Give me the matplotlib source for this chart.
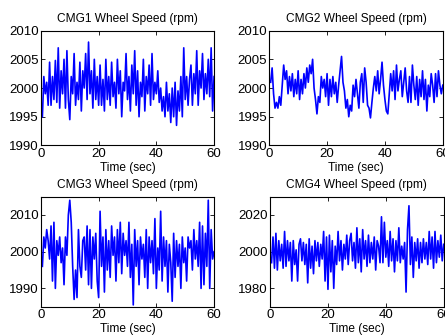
import numpy as np
import matplotlib
matplotlib.use('Agg')
import matplotlib.pyplot as plt

plt.rcParams['font.family'] = ['Liberation Sans', 'DejaVu Sans']

# wheel speed samples (rpm), one every 0.5 s from 0.5 s to 60 s
cmg1 = [1995, 2002, 1999, 2001, 1997, 2004.5, 1997, 2002, 1998, 2004.8, 1997.5, 2007, 1996.5, 2003, 1999, 2005, 1996.5, 2006.5, 1998, 1994.5,
        2002, 1999, 2006, 1997, 2001, 1998, 2004.5, 1996, 2003, 2000, 2006, 1998, 2008, 1999, 2003, 1996.5, 2005, 1998, 2002, 1997,
        2004, 1997, 2001.5, 1996, 2005, 1998, 2002, 1997, 2004.5, 1998.5, 2001, 1996.5, 2005, 1999, 2003, 1995, 2001, 1999.5, 2006, 1998,
        2002, 1996, 2004, 1999, 2006.5, 1997, 2003, 1995, 2001, 1998.5, 2005, 1996, 2002, 1999, 2004, 1997, 2006, 1998, 2001, 1999,
        2003, 1997.5, 2000, 1996, 1998.5, 1995, 2001, 1996, 1999, 1994, 2000, 1995, 2001, 1993.5, 1999.5, 1996, 2002, 1995, 2007, 1998,
        2002, 1997, 2001.5, 2004, 1997, 2002.5, 1999, 2006.5, 1997, 2003, 2000, 2006, 1998, 2002.5, 1999, 2005, 1998.5, 2007, 1996, 2002]

cmg2 = [2001, 2003.5, 1999, 1996.5, 1997.5, 1996.5, 1998.5, 1997, 2000.5, 2004, 2001.5, 2003, 1999, 2002, 1999.5, 2002.5, 1998.5, 2001.5, 1999, 2003,
        1998, 2001.5, 1999, 2002.5, 2000, 2003.5, 2001, 2004, 2002.5, 2005, 2000, 1998, 1995.5, 1998.5, 1997.5, 2002, 2000, 2001.5, 1998.5, 2002.5,
        1997, 2001.5, 1998.5, 2002, 1999, 2001, 1997.5, 2000.5, 2003, 2005.5, 2001, 1999.5, 1996.5, 1998, 1995, 1997, 1996, 2000.5, 1998.5, 2001.5,
        1999, 1996.5, 2001, 2002.5, 1997.5, 2003.5, 2001, 1997, 1996.5, 1994.8, 1997.5, 2000, 2002, 1999.5, 2003, 1999, 2001.5, 2004.5, 2000.5, 1998,
        1996, 1995.5, 1999, 2002.5, 1999.5, 2003, 1998, 2004, 1999.5, 2001.5, 2003, 1998.5, 2001, 2003.5, 1999.5, 1997.5, 2002, 1997.5, 2004, 2000.5,
        1998, 2002, 1997, 2001.5, 1998.5, 2003, 1998, 2001.5, 1996, 2000.5, 1998.5, 2002.5, 2000.5, 1997.5, 2002.5, 1998.5, 2003, 2000.5, 1999, 2000.5]

cmg3 = [1996, 2004, 2001, 2006, 2003, 1998, 2007, 1992, 2008, 1990, 2003, 1999, 2004, 1997, 2001, 1991, 2004, 1999, 2010, 2014,
        2008, 1996, 1987, 1995, 1987.5, 2006, 1996, 1993, 2003, 2004, 1995, 2007, 1991, 2006, 1990, 2004, 1998, 2005, 1992, 1987.5,
        2011, 1996, 2004, 1989, 2006, 1995, 2003, 1993, 2007, 1999, 2004, 1992, 2006, 1997, 2008, 1994, 2005, 1999, 2003, 1996,
        2008, 1993, 2002, 1985.5, 2006, 1996, 2003, 1991, 2004, 1998, 2002, 1993, 2006, 1990, 2004, 1997, 2003, 1994, 2009, 1990,
        2001, 1995, 2011, 1992, 2004, 1996, 2003, 1989, 2002, 1997, 1986.5, 2005, 1993, 2003, 1996, 2002, 1990, 2004, 1997, 2001,
        1992, 2004, 2001, 2003, 1995, 2006, 1998, 2003, 1996, 2008, 1990, 2007, 1991, 2005, 1996, 2014, 1990, 2006, 1998, 2000]

cmg4 = [1994, 2008, 1991, 2010, 1990, 2006, 1995, 2004, 1991, 2011, 1992, 2006, 1995, 2005, 1984, 2006, 1993, 2001, 1984, 2004,
        2007, 1995, 2005, 1993, 2004, 1983, 2007, 1991, 2003, 1988, 2006, 1995, 2005, 1992, 2004, 1996, 2011, 1984, 2008, 1979.5,
        2009, 1989, 2006, 1980, 2003, 1993, 2011, 1995, 2006, 1990, 2004, 1996, 2009, 1993, 2006, 2010, 1995, 2005, 1991, 2013,
        1994, 2007, 1989, 2012, 1996, 2006, 1992, 2009, 1994, 2005, 1996, 2008, 1990, 2006, 2003, 1994, 2019, 1994, 2016, 1997,
        2006, 1992, 2011, 1995, 2007, 1989, 2006, 1995, 2013, 1994, 2003, 1996, 2005, 1978, 2012, 2025, 1993, 2008, 1986, 2005,
        1995, 2007, 1991, 2005, 1994, 2007, 1996, 2005, 1993, 2011, 1996, 2008, 1991, 2011, 1994, 2006, 1997, 2009, 1995, 2004]

t = np.arange(1, len(cmg1) + 1) * 0.5

titles = ['CMG1 Wheel Speed (rpm)', 'CMG2 Wheel Speed (rpm)',
          'CMG3 Wheel Speed (rpm)', 'CMG4 Wheel Speed (rpm)']
series = [cmg1, cmg2, cmg3, cmg4]
ylims = [(1990, 2010), (1990, 2010), (1985, 2015), (1970, 2030)]
yticks = [[1990, 1995, 2000, 2005, 2010], [1990, 1995, 2000, 2005, 2010],
          [1990, 2000, 2010], [1980, 2000, 2020]]

# axes boxes in figure fractions (left, bottom, width, height)
boxes = [(0.092, 0.567, 0.389, 0.342), (0.605, 0.567, 0.390, 0.342),
         (0.092, 0.087, 0.389, 0.328), (0.607, 0.087, 0.390, 0.328)]

fig = plt.figure(figsize=(4.45, 3.36), dpi=100)

for i in range(4):
    ax = fig.add_axes(boxes[i])
    ax.plot(t, series[i], color='blue', linewidth=1.2)
    ax.set_xlim(0, 60)
    ax.set_ylim(*ylims[i])
    ax.set_xticks([0, 20, 40, 60])
    ax.set_yticks(yticks[i])
    ax.tick_params(direction='in', length=3, width=0.6, top=True, right=True,
                   labelsize=9.5, pad=1.5)
    for s in ax.spines.values():
        s.set_linewidth(0.8)
    ax.set_title(titles[i], fontsize=8.6, pad=6.5)
    ax.set_xlabel('Time (sec)', fontsize=8.6, labelpad=1.5)

plt.savefig('out.png', dpi=100)
